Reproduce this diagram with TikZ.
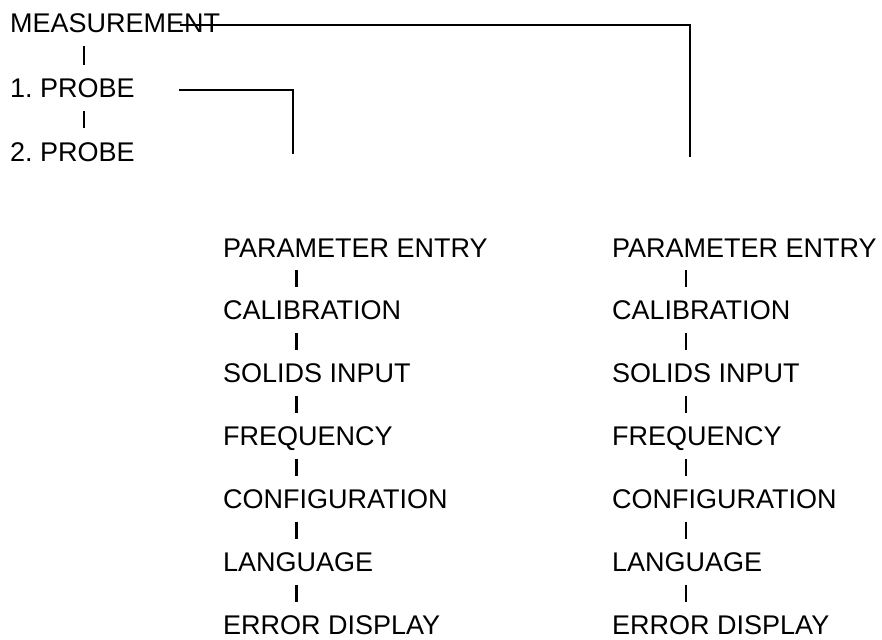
\documentclass[tikz,border=0pt]{standalone}
\usepackage{fontspec}
\setmainfont{Liberation Sans}
\usetikzlibrary{calc}
\frenchspacing
\begin{document}
\begin{tikzpicture}[x=1pt,y=-1pt,
  itemtext/.style={anchor=base west, inner sep=0pt, text height=19.3pt, text depth=0pt,
                   font=\fontsize{27}{32}\selectfont\frenchspacing},
  bar/.style={line width=2.2pt, shorten >=13pt, shorten <=13pt},
  wire/.style={line width=2pt}]
\useasboundingbox (0,0) rectangle (882,639);

% measurement / probe selection
\node[itemtext] (meas) at (10,33)  {MEASUREMENT};
\node[itemtext] (p1)   at (10,98)  {1. PROBE};
\node[itemtext] (p2)   at (10,161) {2. PROBE};
\draw[bar] ([xshift=74pt]meas.south west) -- ([xshift=74pt]p1.north west);
\draw[bar] ([xshift=74pt]p1.south west) -- ([xshift=74pt]p2.north west);

% two identical menu columns
\foreach \t [count=\i] in {PARAMETER ENTRY, CALIBRATION, SOLIDS INPUT, FREQUENCY,
                           CONFIGURATION, LANGUAGE, ERROR DISPLAY} {
  \node[itemtext] (L\i) at (223,{257+62.9*(\i-1)}) {\t};
  \node[itemtext] (R\i) at (612,{257+62.9*(\i-1)}) {\t};
}
\foreach \a/\b in {1/2,2/3,3/4,4/5,5/6,6/7} {
  \draw[bar] ([xshift=73.5pt]L\a.south west) -- ([xshift=73.5pt]L\b.north west);
  \draw[bar] ([xshift=74pt]R\a.south west) -- ([xshift=74pt]R\b.north west);
}

% branch wires
\coordinate (mEnd) at (690,157);
\coordinate (pEnd) at (293,154);
\draw[wire] ([xshift=-40pt,yshift=8pt]meas.south east) -| (mEnd);
\draw[wire] ([xshift=44pt,yshift=8pt]p1.south east) -| (pEnd);
\end{tikzpicture}
\end{document}
